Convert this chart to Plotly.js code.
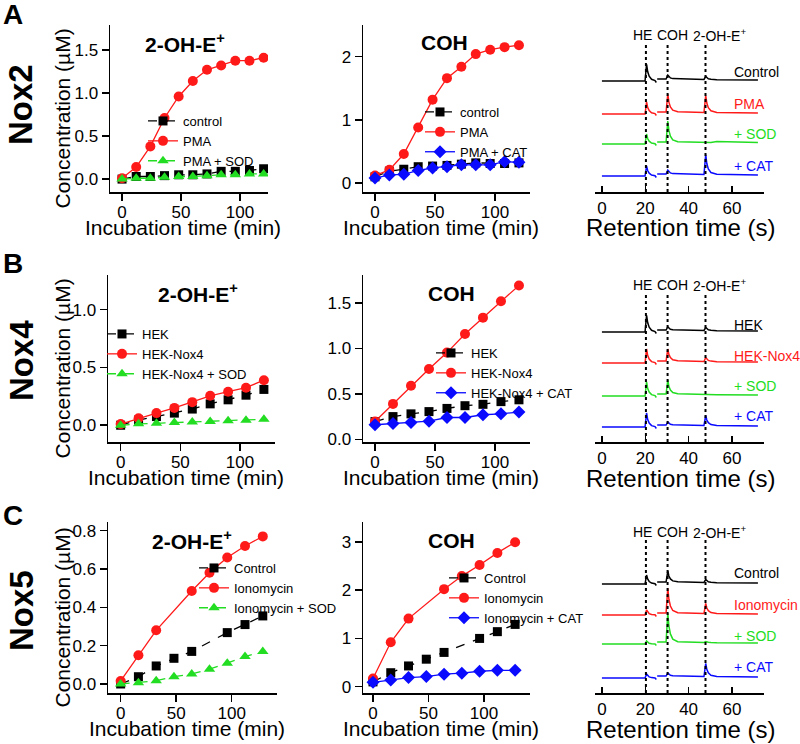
<!DOCTYPE html>
<html>
<head>
<meta charset="utf-8">
<script src="https://cdn.plot.ly/plotly-3.0.1.min.js"></script>
<style>
    body { margin: 0; background: #fff; }
    #chart { width: 800px; height: 744px; }
</style>
</head>
<body>
<div id="chart"></div>
<script>
// ---- data: incubation time courses (µM) ----
const timeNox2 = [0, 12, 24, 36, 48, 60, 72, 84, 96, 108, 120];
const timeNox4 = [0, 15, 30, 45, 60, 75, 90, 105, 120];
const timeNox5 = [0, 16, 32, 48, 64, 80, 96, 112, 128];

// Nox2
const nox2OhControl = [0.0, 0.03, 0.03, 0.04, 0.05, 0.05, 0.06, 0.09, 0.09, 0.10, 0.12];
const nox2OhPma     = [0.01, 0.14, 0.38, 0.71, 0.96, 1.14, 1.27, 1.32, 1.375, 1.375, 1.41];
const nox2OhPmaSod  = [0.0, 0.01, 0.01, 0.02, 0.03, 0.03, 0.04, 0.05, 0.05, 0.06, 0.06];
const nox2CohControl = [0.10, 0.19, 0.22, 0.26, 0.27, 0.28, 0.30, 0.32, 0.31, 0.31, 0.32];
const nox2CohPma     = [0.12, 0.21, 0.46, 0.88, 1.32, 1.66, 1.84, 2.04, 2.11, 2.15, 2.18];
const nox2CohPmaCat  = [0.08, 0.13, 0.14, 0.20, 0.24, 0.26, 0.29, 0.29, 0.29, 0.34, 0.33];

// Nox4
const nox4OhHek    = [0.0, 0.045, 0.075, 0.105, 0.14, 0.185, 0.22, 0.26, 0.31];
const nox4OhNox4   = [0.01, 0.06, 0.105, 0.15, 0.20, 0.255, 0.29, 0.325, 0.39];
const nox4OhSod    = [0.0, 0.012, 0.017, 0.023, 0.029, 0.032, 0.038, 0.043, 0.052];
const nox4CohHek   = [0.195, 0.25, 0.28, 0.305, 0.34, 0.37, 0.385, 0.415, 0.435];
const nox4CohNox4  = [0.195, 0.39, 0.59, 0.775, 0.955, 1.16, 1.34, 1.52, 1.695];
const nox4CohCat   = [0.16, 0.175, 0.185, 0.20, 0.24, 0.24, 0.27, 0.28, 0.30];

// Nox5 (null = point not shown)
const nox5OhControl  = [0.0, 0.038, 0.094, 0.134, 0.17, null, 0.268, 0.31, 0.355];
const nox5OhIono     = [0.016, 0.15, 0.28, null, 0.485, 0.58, 0.66, 0.72, 0.77];
const nox5OhIonoSod  = [0.0, 0.007, 0.017, 0.038, 0.052, 0.077, 0.108, 0.143, 0.169];
const nox5CohControl = [0.10, 0.29, 0.43, 0.57, 0.71, null, 1.00, 1.14, 1.29];
const nox5CohIono    = [0.17, 0.92, 1.41, null, 2.02, 2.29, 2.52, 2.77, 2.99];
const nox5CohIonoCat = [0.09, 0.14, 0.19, 0.21, 0.26, 0.28, 0.32, 0.34, 0.34];

// ---- data: HPLC traces (retention time, s; signal, arb. units) ----
const chromTime = [0, 19.9, 20.6, 21.1, 21.8, 22.9, 24.5, 25.1, null, 25.5, 29.6, 30.4, 30.9, 31.6, 32.7, 35, 47.1, 47.9, 48.4, 49.1, 50.3, 53, 72];
const peakTimes = [20.3, 30.3, 47.8];
const peakNames = ["HE", "COH", "2-OH-E<sup>+</sup>"];

const chromNox2Control = [0, 0, 17, 9.4, 4.8, 1.7, 0.5, -1.5, null, 2, 2, 6, 4.2, 3.1, 2.4, 2.2, 1.5, 4.5, 3.2, 2.3, 1.8, 1.2, 1];
const chromNox2Pma     = [0, 0, 12, 6.6, 3.4, 1.2, 0.4, -1.5, null, 2, 2, 20, 11.9, 7, 3.8, 2.2, 1.5, 18.5, 10.9, 6.3, 3.2, 1.5, 1];
const chromNox2Sod     = [0, 0, 10, 5.5, 2.8, 1, 0.3, -1.5, null, 2, 2, 23, 13.6, 7.9, 4.1, 2.2, 1.5, 1.6, 1.5, 1.5, 1.6, 2.5, 1.5];
const chromNox2Cat     = [0, 0, 10, 5.5, 2.8, 1, 0.3, -1.5, null, 2, 2, 6, 4.2, 3.1, 2.4, 2.2, 1.5, 21.5, 12.5, 7.1, 3.5, 1.8, 1];

const chromNox4Hek     = [0, 0, 17, 9.4, 4.8, 1.7, 0.5, -1.5, null, 2, 2, 5, 3.7, 2.8, 2.3, 2.2, 1.5, 4.5, 3.2, 2.3, 1.8, 1.2, 1];
const chromNox4Nox4    = [0, 0, 14, 7.7, 3.9, 1.4, 0.4, -1.5, null, 2, 2, 14, 8.6, 5.4, 3.2, 2.2, 1.5, 5.5, 3.7, 2.6, 1.9, 1.2, 1];
const chromNox4Sod     = [0, 0, 14, 7.7, 3.9, 1.4, 0.4, -1.5, null, 2, 2, 16, 9.7, 5.9, 3.4, 2.2, 1.5, 2, 1.8, 1.6, 1.5, 1.2, 1];
const chromNox4Cat     = [0, 0, 14, 7.7, 3.9, 1.4, 0.4, -1.5, null, 2, 2, 5, 3.7, 2.8, 2.3, 2.2, 1.5, 11.5, 7, 4.3, 2.5, 1.5, 1];

const chromNox5Control = [0, 0, 9, 5, 2.5, 0.9, 0.3, -1.5, null, 2, 2, 13, 8, 5.1, 3.1, 2.2, 1.5, 4.5, 3.2, 2.3, 1.8, 1.2, 1];
const chromNox5Iono    = [0, 0, 5, 2.8, 1.4, 0.5, 0.2, -1.5, null, 2, 2, 27, 15.8, 9, 4.5, 2.3, 1.5, 11.5, 7, 4.3, 2.5, 1.5, 1];
const chromNox5Sod     = [0, 0, 3, 1.7, 0.8, 0.3, 0.1, -1.5, null, 2, 2, 31, 18, 10.1, 4.9, 2.3, 1.5, 2.5, 2, 1.8, 1.6, 1.3, 1];
const chromNox5Cat     = [0, 0, 4, 2.2, 1.1, 0.4, 0.1, -1.5, null, 2, 2, 5, 3.7, 2.8, 2.3, 2.2, 1.5, 14.5, 8.7, 5.1, 2.8, 1.6, 1];

// ---- styling / layout helpers ----
const FONT = "Liberation Sans, Arial, sans-serif";
const W = 800, H = 744;
const px = v => v / W;          // pixel -> paper x
const py = v => 1 - v / H;      // pixel -> paper y

const styles = {
    black: { color: "#000000", symbol: "square", size: 9, dash: "dash" },
    red:   { color: "#ff1a1a", symbol: "circle", size: 10, dash: "solid" },
    green: { color: "#22dd22", symbol: "triangle-up", size: 10, dash: "dash" },
    blue:  { color: "#0a0aff", symbol: "diamond", size: 10, dash: "solid" }
};

const rows = [
    { top: 25, bottom: 192, letter: "A", letterY: 15, nox: "Nox2", noxY: 105 },
    { top: 275, bottom: 442, letter: "B", letterY: 263, nox: "Nox4", noxY: 361 },
    { top: 522, bottom: 693, letter: "C", letterY: 515, nox: "Nox5", noxY: 611 }
];

const linePanels = [
    { row: 0, x0: 110, x1: 268, xr: [-10.2, 123.7], yr: [-0.15, 1.79], dtick: 0.5, fmt: ".1f",
      time: timeNox2, title: "<b>2-OH-E<sup>+</sup></b>", titleX: 185, legendX: 183, legendY: 125,
      series: [["control", nox2OhControl, "black"], ["PMA", nox2OhPma, "red"], ["PMA + SOD", nox2OhPmaSod, "green"]] },
    { row: 0, x0: 363, x1: 530, xr: [-10, 129.2], yr: [-0.14, 2.5], dtick: 1, fmt: "d",
      time: timeNox2, title: "<b>COH</b>", titleX: 444, legendX: 460, legendY: 116,
      series: [["control", nox2CohControl, "black"], ["PMA", nox2CohPma, "red"], ["PMA + CAT", nox2CohPmaCat, "blue"]] },
    { row: 1, x0: 108, x1: 275, xr: [-10.6, 129.3], yr: [-0.145, 1.30], dtick: 0.5, fmt: ".1f",
      time: timeNox4, title: "<b>2-OH-E<sup>+</sup></b>", titleX: 198, legendX: 142, legendY: 338,
      series: [["HEK", nox4OhHek, "black"], ["HEK-Nox4", nox4OhNox4, "red"], ["HEK-Nox4 + SOD", nox4OhSod, "green"]] },
    { row: 1, x0: 363, x1: 530, xr: [-10, 129.2], yr: [-0.03, 1.81], dtick: 0.5, fmt: ".1f",
      time: timeNox4, title: "<b>COH</b>", titleX: 452, legendX: 471, legendY: 357,
      series: [["HEK", nox4CohHek, "black"], ["HEK-Nox4", nox4CohNox4, "red"], ["HEK-Nox4 + CAT", nox4CohCat, "blue"]] },
    { row: 2, x0: 108, x1: 277, xr: [-11.4, 140.8], yr: [-0.047, 0.845], dtick: 0.2, fmt: ".1f",
      time: timeNox5, title: "<b>2-OH-E<sup>+</sup></b>", titleX: 192, legendX: 234, legendY: 572,
      series: [["Control", nox5OhControl, "black"], ["Ionomycin", nox5OhIono, "red"], ["Ionomycin + SOD", nox5OhIonoSod, "green"]] },
    { row: 2, x0: 363, x1: 530, xr: [-9, 141.4], yr: [-0.13, 3.41], dtick: 1, fmt: "d",
      time: timeNox5, title: "<b>COH</b>", titleX: 452, legendX: 484, legendY: 582,
      series: [["Control", nox5CohControl, "black"], ["Ionomycin", nox5CohIono, "red"], ["Ionomycin + CAT", nox5CohIonoCat, "blue"]] }
];

const chromPanels = [
    { row: 0, labelYs: [72, 104, 134, 166], offsets: [111, 78, 48, 16],
      traces: [["Control", chromNox2Control, "black"], ["PMA", chromNox2Pma, "red"], ["+ SOD", chromNox2Sod, "green"], ["+ CAT", chromNox2Cat, "blue"]] },
    { row: 1, labelYs: [325, 356, 386, 416], offsets: [110, 79, 46, 15],
      traces: [["HEK", chromNox4Hek, "black"], ["HEK-Nox4", chromNox4Nox4, "red"], ["+ SOD", chromNox4Sod, "green"], ["+ CAT", chromNox4Cat, "blue"]] },
    { row: 2, labelYs: [573, 605, 636, 667], offsets: [109, 78, 49, 15],
      traces: [["Control", chromNox5Control, "black"], ["Ionomycin", chromNox5Iono, "red"], ["+ SOD", chromNox5Sod, "green"], ["+ CAT", chromNox5Cat, "blue"]] }
];

const data = [];
const layout = {
    width: W, height: H,
    margin: { l: 0, r: 0, t: 0, b: 0 },
    paper_bgcolor: "#ffffff",
    plot_bgcolor: "rgba(0,0,0,0)",
    font: { family: FONT, size: 17, color: "#000000" },
    showlegend: true,
    annotations: [],
    shapes: []
};

function note(text, x, y, size, extra) {
    layout.annotations.push(Object.assign({
        text: text, x: px(x), y: py(y), xref: "paper", yref: "paper",
        xanchor: "center", yanchor: "middle",
        showarrow: false, font: { family: FONT, size: size, color: "#000" }
    }, extra || {}));
}

const axisBase = {
    showline: true, linecolor: "#000", linewidth: 1.5,
    ticks: "outside", ticklen: 7, tickwidth: 1.5, tickcolor: "#000",
    showgrid: false, zeroline: false,
    tickfont: { family: FONT, size: 17, color: "#000" }
};

let axisNum = 0;
let legendNum = 0;

// ---- concentration vs incubation time panels ----
linePanels.forEach(function (p) {
    axisNum += 1;
    legendNum += 1;
    const n = axisNum === 1 ? "" : String(axisNum);
    const legendId = legendNum === 1 ? "legend" : "legend" + legendNum;
    const r = rows[p.row];

    layout["xaxis" + n] = Object.assign({}, axisBase, {
        domain: [px(p.x0), px(p.x1)], range: p.xr, anchor: "y" + n,
        tick0: 0, dtick: 50, ticklabelstandoff: -3
    });
    layout["yaxis" + n] = Object.assign({}, axisBase, {
        domain: [py(r.bottom), py(r.top)], range: p.yr, anchor: "x" + n,
        tick0: 0, dtick: p.dtick, tickformat: p.fmt
    });
    layout[legendId] = {
        x: px(p.legendX - 40), y: py(p.legendY - 19), xanchor: "left", yanchor: "top",
        bgcolor: "rgba(0,0,0,0)", borderwidth: 0,
        font: { family: FONT, size: 13, color: "#000" },
        itemwidth: 30, traceorder: "normal"
    };

    p.series.forEach(function (s) {
        const st = styles[s[2]];
        data.push({
            x: p.time, y: s[1], name: s[0],
            xaxis: "x" + n, yaxis: "y" + n, legend: legendId,
            type: "scatter", mode: "lines+markers", connectgaps: true,
            line: { color: st.color, width: 1.3, dash: st.dash },
            marker: { symbol: st.symbol, size: st.size, color: st.color }
        });
    });

    note(p.title, p.titleX, r.top + 18, 21);
    note("Incubation time (min)", (p.x0 + p.x1) / 2 - 6, r.bottom + 35, 21);
    if (p.x0 < 200) {
        note("Concentration (\u00b5M)", 62, (r.top + r.bottom) / 2 + 10, 21, { textangle: -90 });
    }
});

// ---- HPLC chromatogram panels ----
chromPanels.forEach(function (p) {
    axisNum += 1;
    const n = String(axisNum);
    const r = rows[p.row];

    layout["xaxis" + n] = Object.assign({}, axisBase, {
        domain: [px(595), px(764)], range: [-3.2, 74.8], anchor: "y" + n,
        ticks: "inside", ticklen: 6, tick0: 0, dtick: 20
    });
    layout["yaxis" + n] = {
        domain: [py(r.bottom), py(r.top)], range: [0, r.bottom - r.top],
        anchor: "x" + n, visible: false
    };

    p.traces.forEach(function (t, i) {
        const st = styles[t[2]];
        data.push({
            x: chromTime,
            y: t[1].map(v => (v === null ? null : v + p.offsets[i])),
            xaxis: "x" + n, yaxis: "y" + n, showlegend: false,
            type: "scatter", mode: "lines", connectgaps: false,
            line: { color: st.color, width: 1.5 }
        });
        note(t[0], 732, p.labelYs[i], 14, { xanchor: "left", font: { family: FONT, size: 14, color: st.color } });
    });

    peakTimes.forEach(function (t) {
        layout.shapes.push({
            type: "line", xref: "x" + n, yref: "paper",
            x0: t, x1: t, y0: py(r.bottom), y1: py(r.top + 18),
            line: { color: "#000", width: 2, dash: "dot" }
        });
    });
    const headerX = [642, 672, 719];
    peakNames.forEach(function (name, i) {
        note(name, headerX[i], r.top + 10, 14);
    });
    note("Retention time (s)", 680, r.bottom + 36, 24);
});

// ---- row letters and Nox labels ----
rows.forEach(function (r) {
    note("<b>" + r.letter + "</b>", 13, r.letterY, 28);
    note("<b>" + r.nox + "</b>", 21, r.noxY, 33, { textangle: -90 });
});

Plotly.newPlot("chart", data, layout, { displayModeBar: false, staticPlot: true });
</script>
</body>
</html>
